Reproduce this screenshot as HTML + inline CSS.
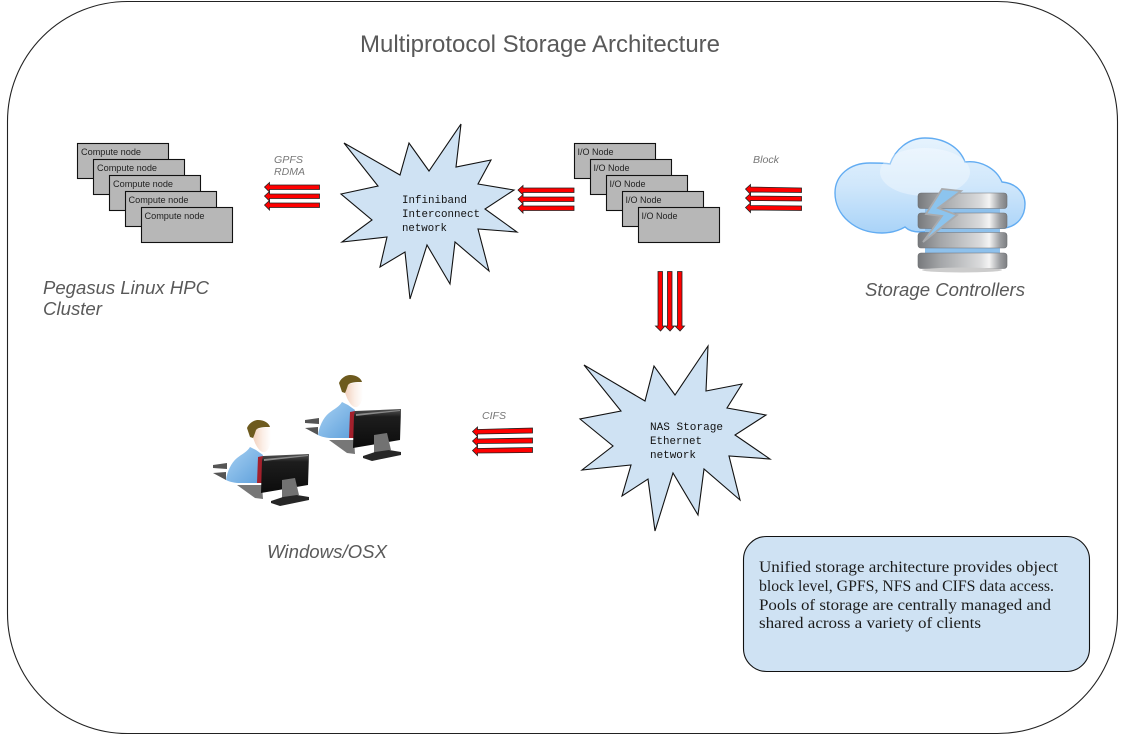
<!DOCTYPE html>
<html>
<head>
<meta charset="utf-8">
<style>
html,body{margin:0;padding:0;background:#fff;width:1130px;height:742px;overflow:hidden}
svg{display:block}
.s{font-family:"Liberation Sans",sans-serif}
.n{font-size:9.4px;fill:#222}
.l{font-size:10px;font-style:italic;fill:#777}
.c{font-size:18px;font-style:italic;fill:#595959}
.m{font-family:"Liberation Mono",monospace;font-size:11px;fill:#111}
.b{font-family:"Liberation Serif",serif;font-size:15.5px;fill:#1c1c1c}
.box{fill:#b7b7b7;stroke:#111;stroke-width:1.1}
.star{fill:#cfe2f3;stroke:#111;stroke-width:1.1;stroke-linejoin:miter}
.ar{fill:#f00;stroke:#222;stroke-width:.8}
</style>
</head>
<body>
<svg width="1130" height="742" viewBox="0 0 1130 742" xmlns="http://www.w3.org/2000/svg">
<defs>
<linearGradient id="cl" x1="0" y1="0" x2="0" y2="1">
<stop offset="0" stop-color="#e6f3fd"/><stop offset=".5" stop-color="#d0e7fb"/><stop offset="1" stop-color="#a9d3f8"/>
</linearGradient>
<linearGradient id="disk" x1="0" y1="0" x2="1" y2="0">
<stop offset="0" stop-color="#77797c"/><stop offset=".25" stop-color="#a3a5a8"/><stop offset=".7" stop-color="#dadbdc"/><stop offset=".8" stop-color="#f4f4f4"/><stop offset=".92" stop-color="#9d9fa2"/><stop offset="1" stop-color="#7d7f82"/>
</linearGradient>
<linearGradient id="shirt" x1="0" y1="0" x2="1" y2="1">
<stop offset="0" stop-color="#a9d2f3"/><stop offset="1" stop-color="#5d9fdb"/>
</linearGradient>
<linearGradient id="mon" x1="0" y1="0" x2="0" y2="1">
<stop offset="0" stop-color="#555"/><stop offset=".2" stop-color="#1d1d1d"/><stop offset="1" stop-color="#0c0c0c"/>
</linearGradient>
<linearGradient id="face" x1="0" y1="0" x2="1" y2="0">
<stop offset="0" stop-color="#eec7b0"/><stop offset=".6" stop-color="#fbeee6"/><stop offset="1" stop-color="#fff"/>
</linearGradient>
<g id="user">
<path d="M213 465l14-2v6l-14-1zM213 473l13-1v8z" fill="#555"/>
<path d="M237 485h25l1 14-8-1z" fill="#777"/>
<path d="M226 480c1-8 5-17 11-22 5-4 10-6 13-11l6 3 7 5-6 28-17 0c-5 0-10-1-14-3z" fill="url(#shirt)"/>
<path d="M258 457l5-1 0 27-6 0z" fill="#a3202c"/>
<path d="M250 430l20-3 1 10c0 7-2 13-6 15-4 1-7-3-10-9z" fill="url(#face)"/>
<path d="M247 428c2-5 7-8 11-8 6 0 11 3 12 7-5 0-12 0-14 3-1 3-2 6-3 8l-3-1c-1-3-2-6-3-9z" fill="#6d5a1e"/>
<path d="M262 460l1-4 46-2-1 31-47 8z" fill="url(#mon)"/>
<path d="M264 459l44-4v1l-44 5z" fill="#8a8a8a"/>
<path d="M282 480l13-2 4 17-17 3z" fill="#727272"/>
<path d="M271 501l12-4 14-2 12 2v3l-29 6-9-3z" fill="#262626"/>
</g>
<g id="dk"><rect x="918" y="193" width="89" height="15.5" rx="3" fill="url(#disk)" stroke="#6d6f72" stroke-width=".6"/></g>
</defs>

<rect x="7.5" y="1.5" width="1110" height="732" rx="120" ry="120" fill="#fff" stroke="#222" stroke-width="1.1"/>

<text class="s" x="360" y="52" font-size="24" fill="#595959" textLength="360" lengthAdjust="spacingAndGlyphs">Multiprotocol Storage Architecture</text>

<!-- Compute nodes -->
<rect class="box" x="77.5" y="143.5" width="91" height="35"/>
<rect class="box" x="93.5" y="159.5" width="91" height="35"/>
<rect class="box" x="109.5" y="175.5" width="91" height="35"/>
<rect class="box" x="125.5" y="191.5" width="91" height="35"/>
<rect class="box" x="141.5" y="207.5" width="91" height="35"/>
<g class="s n">
<text x="81" y="155" textLength="60" lengthAdjust="spacingAndGlyphs">Compute node</text>
<text x="97" y="171" textLength="60" lengthAdjust="spacingAndGlyphs">Compute node</text>
<text x="113" y="187" textLength="60" lengthAdjust="spacingAndGlyphs">Compute node</text>
<text x="128.500" y="203" textLength="60" lengthAdjust="spacingAndGlyphs">Compute node</text>
<text x="144.500" y="219" textLength="60" lengthAdjust="spacingAndGlyphs">Compute node</text>
</g>

<!-- IO nodes -->
<rect class="box" x="574.500" y="143.5" width="81" height="35"/>
<rect class="box" x="590.500" y="159.5" width="81" height="35"/>
<rect class="box" x="606.500" y="175.5" width="81" height="35"/>
<rect class="box" x="622.500" y="191.5" width="81" height="35"/>
<rect class="box" x="638.500" y="207.5" width="81" height="35"/>
<g class="s n">
<text x="577.500" y="155" textLength="36" lengthAdjust="spacingAndGlyphs">I/O Node</text>
<text x="593.500" y="171" textLength="36" lengthAdjust="spacingAndGlyphs">I/O Node</text>
<text x="609.500" y="187" textLength="36" lengthAdjust="spacingAndGlyphs">I/O Node</text>
<text x="625.500" y="203" textLength="36" lengthAdjust="spacingAndGlyphs">I/O Node</text>
<text x="641.500" y="219" textLength="36" lengthAdjust="spacingAndGlyphs">I/O Node</text>
</g>

<!-- Stars -->
<polygon class="star" points="344,143 400,175 409,143 429,171 461,124 456,167 491,160 478,184 514,190 485,209 517,232 478,229 489,271 455,242 450,284 427,245 410,299 405,252 380,267 387,237 342,242 372,220 341,194 378,186"/>
<polygon class="star" points="584,365 645,401 654,366 675,395 708,346 706,391 742,384 727,408 766,415 735,435 770,459 729,456 740,500 704,469 698,515 673,473 655,531 648,479 622,496 631,465 582,470 613,446 580,419 621,411"/>
<g class="m">
<text x="402" y="203" textLength="65" lengthAdjust="spacingAndGlyphs">Infiniband</text>
<text x="402" y="217" textLength="78" lengthAdjust="spacingAndGlyphs">Interconnect</text>
<text x="402" y="231" textLength="45" lengthAdjust="spacingAndGlyphs">network</text>
<text x="650" y="430" textLength="73" lengthAdjust="spacingAndGlyphs">NAS Storage</text>
<text x="650" y="444" textLength="52" lengthAdjust="spacingAndGlyphs">Ethernet</text>
<text x="650" y="458" textLength="46" lengthAdjust="spacingAndGlyphs">network</text>
</g>

<!-- Arrows -->
<g class="ar">
<path d="M264.500 187l5-4.500v2.500h50v4.500h-50v2.500z"/>
<path d="M264.500 196l5-4.500v2.500h50v4.500h-50v2.500z"/>
<path d="M264.500 205l5-4.500v2.500h50v4.500h-50v2.500z"/>

<path d="M518 190l5-4.500v2.500h51v4.500h-51v2.500z"/>
<path d="M518 199l5-4.500v2.500h51v4.500h-51v2.500z"/>
<path d="M518 208l5-4.500v2.500h51v4.500h-51v2.500z"/>

<path d="M745.500 189l5-4.500v2.500l51 1v4.500l-51-.5v2.500z"/>
<path d="M745.500 198l5-4.500v2.500l51 .5v4.500l-51-.5v2.500z"/>
<path d="M745.500 207.500l5-4.500v2.500l51 .5v4.500l-51-.5v2.500z"/>

<path d="M472.500 431.500l5-4.500v2.500l55-1.500v5l-55 1v2.500z"/>
<path d="M472.500 441l5-4.500v2.500l55-1v5l-55 .5v2.500z"/>
<path d="M472.500 450.500l5-4.500v2.500l55-1v5l-55 .5v2.500z"/>

<path d="M660.500 331l-5-5h2.500v-54.500h4.500v54.500h2.500z"/>
<path d="M670 331l-5-5h2.500v-54.500h4.500v54.500h2.500z"/>
<path d="M680 331l-5-5h2.500v-54.500h4.500v54.500h2.500z"/>
</g>

<g class="s l">
<text x="274" y="163" textLength="29" lengthAdjust="spacingAndGlyphs">GPFS</text>
<text x="274" y="175" textLength="31" lengthAdjust="spacingAndGlyphs">RDMA</text>
<text x="753" y="163" textLength="26" lengthAdjust="spacingAndGlyphs">Block</text>
<text x="482" y="419" textLength="24" lengthAdjust="spacingAndGlyphs">CIFS</text>
</g>

<!-- Cloud -->
<path d="M835 193C835 175 850 163 870 163C878 163 885 163 890 164C895 150 908 138 925 138C945 138 960 148 965 162C980 160 996 168 1002 182C1015 183 1025 192 1025 204C1025 216 1018 226 1005 228L920 232C912 232 908 230 905 227C898 231 890 233 882 233C855 233 835 215 835 193Z" fill="url(#cl)" stroke="#62acf2" stroke-width="1.4"/>
<ellipse cx="925" cy="172" rx="45" ry="24" fill="#fff" opacity=".35"/>
<rect x="925" y="205" width="75" height="55" fill="#8ec1ec"/>
<use href="#dk"/>
<use href="#dk" y="20"/>
<use href="#dk" y="39.500"/>
<use href="#dk" y="60"/>
<ellipse cx="962" cy="270" rx="40" ry="2.500" fill="#ccc"/>
<polygon points="961,191 942,189 926,214 942,216 923,242 957,215 938,208" fill="#8cc4ee" stroke="#a9abae" stroke-width="1.800"/>

<!-- Users -->
<use href="#user"/>
<use href="#user" transform="translate(92,-45)"/>

<g class="s c">
<text x="43" y="294" textLength="166" lengthAdjust="spacingAndGlyphs">Pegasus Linux HPC</text>
<text x="43" y="315" textLength="59" lengthAdjust="spacingAndGlyphs">Cluster</text>
<text x="865" y="296" textLength="160" lengthAdjust="spacingAndGlyphs">Storage Controllers</text>
<text x="267" y="558" textLength="120" lengthAdjust="spacingAndGlyphs">Windows/OSX</text>
</g>

<!-- Text box -->
<rect x="743.500" y="536.500" width="346" height="135" rx="23" ry="23" fill="#cfe2f3" stroke="#111" stroke-width="1.100"/>
<g class="b">
<text x="759" y="572" textLength="299" lengthAdjust="spacingAndGlyphs">Unified storage architecture provides object</text>
<text x="759" y="591" textLength="295" lengthAdjust="spacingAndGlyphs">block level, GPFS, NFS and CIFS data access.</text>
<text x="759" y="610" textLength="292" lengthAdjust="spacingAndGlyphs">Pools of storage are centrally managed and</text>
<text x="759" y="628" textLength="222" lengthAdjust="spacingAndGlyphs">shared across a variety of clients</text>
</g>
</svg>
</body>
</html>
